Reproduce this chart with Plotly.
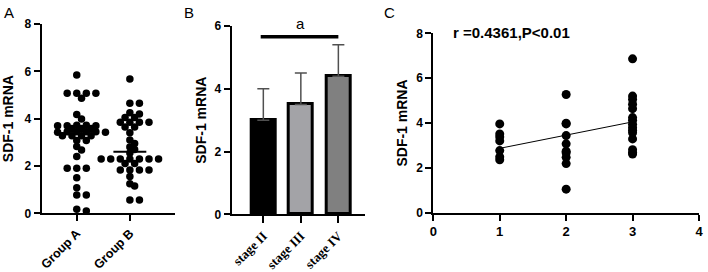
import plotly.graph_objects as go
import numpy as np

# ---------------- data ----------------
groups = ["Group A", "Group B"]
group_a = [5.84, 5.07, 5.07, 5.07, 5.07, 4.86, 4.18, 3.98, 3.72, 3.72, 3.70, 3.70, 3.70,
           3.58, 3.58, 3.58, 3.45, 3.45, 3.45, 3.45, 3.42, 3.42, 3.28, 3.28, 3.28, 3.28,
           3.08, 3.08, 2.82, 2.68, 2.40, 1.90, 1.90, 1.90, 1.50, 1.08, 0.77, 0.77, 0.17, 0.10]
group_b = [5.68, 4.65, 4.65, 4.25, 4.20, 4.05, 4.05, 3.85, 3.85, 3.85, 3.85, 3.65, 3.65,
           3.40, 3.10, 2.95, 2.80, 2.70, 2.55, 2.30, 2.30, 2.30, 2.30, 2.30, 2.30, 2.30,
           2.10, 2.10, 1.83, 1.83, 1.83, 1.83, 1.55, 1.25, 1.15, 0.56, 0.56]
group_center = [3.38, 2.60]

stages = ["stage II", "stage III", "stage IV"]
stage_mean = [3.0, 3.5, 4.4]
stage_sd = [1.0, 1.0, 1.0]
stage_colors = ["#000000", "#a3a3a7", "#808080"]
sig_label = "a"
sig_y = 5.66

c_x1 = [1, 1, 1, 1, 1, 1, 1]
c_y1 = [3.96, 3.51, 3.38, 3.20, 2.77, 2.49, 2.36]
c_x2 = [2] * 10
c_y2 = [5.27, 3.99, 3.96, 3.44, 3.07, 2.74, 2.67, 2.47, 2.19, 1.05]
c_x3 = [3] * 15
c_y3 = [6.86, 5.20, 5.05, 4.84, 4.64, 4.24, 4.12, 3.94, 3.79, 3.67, 3.56, 3.29, 2.81, 2.68, 2.62]
fit_x = [1, 3]
fit_y = [2.87, 4.05]
corr_text = "r =0.4361,P<0.01"

y_title = "SDF-1 mRNA"

# ---------------- geometry helpers ----------------
W, H = 708, 272
def px(x):
    return x / W
def py(y):
    return 1 - y / H

FONT = "Liberation Sans, Arial, sans-serif"
SERIF = "Liberation Serif, Times New Roman, serif"

def swarm(vals, center, ppx, ppy, diam, step):
    order = np.argsort(vals)[::-1]
    placed = []
    xs = [0.0] * len(vals)
    for i in order:
        yp = vals[i] * ppy
        k = 0
        while True:
            n = (k + 1) // 2
            off = 0.0 if k == 0 else n * step * (1 if k % 2 == 1 else -1)
            if all((off - ox) ** 2 + (yp - oy) ** 2 >= diam ** 2 for ox, oy in placed):
                placed.append((off, yp))
                xs[i] = center + off / ppx
                break
            k += 1
    return xs

fig = go.Figure()

# ---------------- Panel A ----------------
ppx_a, ppy_a = 53.3, 23.66
for gi, vals in enumerate([group_a, group_b]):
    xs = swarm(vals, gi, ppx_a, ppy_a, 5.2, 4.8)
    fig.add_trace(go.Scatter(x=xs, y=vals, mode="markers",
                             marker=dict(color="black", size=7.5),
                             xaxis="x", yaxis="y", showlegend=False))
    fig.add_trace(go.Scatter(x=[gi - 0.31, gi + 0.31], y=[group_center[gi]] * 2, mode="lines",
                             line=dict(color="black", width=2),
                             xaxis="x", yaxis="y", showlegend=False))

# ---------------- Panel B ----------------
bx = list(range(len(stages)))
fig.add_trace(go.Bar(x=bx, y=stage_mean, width=0.64,
                     marker=dict(color=stage_colors, line=dict(color="black", width=3)),
                     error_y=dict(type="data", array=stage_sd, arrayminus=[0] * 3,
                                  symmetric=False, color="#505050", thickness=1.5, width=6),
                     xaxis="x2", yaxis="y2", showlegend=False))
fig.add_trace(go.Scatter(x=[bx[0] - 0.07, bx[-1]], y=[sig_y, sig_y], mode="lines",
                         line=dict(color="black", width=3.5),
                         xaxis="x2", yaxis="y2", showlegend=False))
fig.add_annotation(x=(bx[0] + bx[-1]) / 2, y=sig_y, xref="x2", yref="y2", text=sig_label,
                   showarrow=False, yshift=13, font=dict(family=FONT, size=15, color="black"))

# ---------------- Panel C ----------------
for xs, ys in [(c_x1, c_y1), (c_x2, c_y2), (c_x3, c_y3)]:
    fig.add_trace(go.Scatter(x=xs, y=ys, mode="markers",
                             marker=dict(color="black", size=9),
                             xaxis="x3", yaxis="y3", showlegend=False))
fig.add_trace(go.Scatter(x=fit_x, y=fit_y, mode="lines", line=dict(color="black", width=1),
                         xaxis="x3", yaxis="y3", showlegend=False))
fig.add_annotation(x=px(451), y=py(32), xref="paper", yref="paper", xanchor="left",
                   yanchor="middle", text="<b>" + corr_text + "</b>", showarrow=False,
                   font=dict(family=FONT, size=15, color="black"))

# ---------------- axes ----------------
def axis(ticklen=6, size=12, family=FONT):
    return dict(showline=True, linecolor="black", linewidth=2, ticks="outside",
                ticklen=ticklen, tickwidth=2, tickcolor="black", showgrid=False,
                zeroline=False, automargin=False,
                tickfont=dict(family=family, size=size, color="black"))

title_font = dict(family=FONT, size=14, color="black")

fig.update_layout(
    width=W, height=H, margin=dict(l=0, r=0, t=0, b=0),
    plot_bgcolor="white", paper_bgcolor="white", bargap=0,
    xaxis=dict(domain=[px(41.7), px(175)], range=[-0.66, 1.85], tickvals=[0, 1],
               ticktext=["<b>%s</b>" % g for g in groups], tickangle=-45, anchor="y",
               **axis(6, 12.5)),
    yaxis=dict(domain=[py(213.3), py(24)], range=[0, 8], tickvals=[0, 2, 4, 6, 8],
               ticktext=["<b>%d</b>" % v for v in [0, 2, 4, 6, 8]], anchor="x",
               title=dict(text="<b>" + y_title + "</b>", font=title_font, standoff=11),
               **axis(6, 12)),
    xaxis2=dict(domain=[px(231.7), px(365)], range=[-0.843, 2.71], tickvals=bx,
                ticktext=["<b>%s</b>" % s for s in stages], tickangle=-45, anchor="y2",
                **axis(7, 13, SERIF)),
    yaxis2=dict(domain=[py(214.3), py(26)], range=[0, 6], tickvals=[0, 2, 4, 6],
                ticktext=["<b>%d</b>" % v for v in [0, 2, 4, 6]], anchor="x2",
                title=dict(text="<b>" + y_title + "</b>", font=title_font, standoff=5),
                **axis(6, 12)),
    xaxis3=dict(domain=[px(433.3), px(699)], range=[0, 4], tickvals=[0, 1, 2, 3, 4],
                ticktext=["<b>%d</b>" % v for v in [0, 1, 2, 3, 4]], anchor="y3",
                **axis(6, 13)),
    yaxis3=dict(domain=[py(212.7), py(33.3)], range=[0, 8], tickvals=[0, 2, 4, 6, 8],
                ticktext=["<b>%d</b>" % v for v in [0, 2, 4, 6, 8]], anchor="x3",
                title=dict(text="<b>" + y_title + "</b>", font=title_font, standoff=5),
                **axis(6, 12)),
)

for lab, xp in [("A", 2), ("B", 182), ("C", 382)]:
    fig.add_annotation(x=px(xp), y=py(2), xref="paper", yref="paper", xanchor="left",
                       yanchor="top", text=lab, showarrow=False,
                       font=dict(family=FONT, size=15, color="black"))

fig.write_html("out.html", config={"displayModeBar": False},
               post_script="document.body.style.margin='0';"
               "document.body.style.overflow='hidden';")
